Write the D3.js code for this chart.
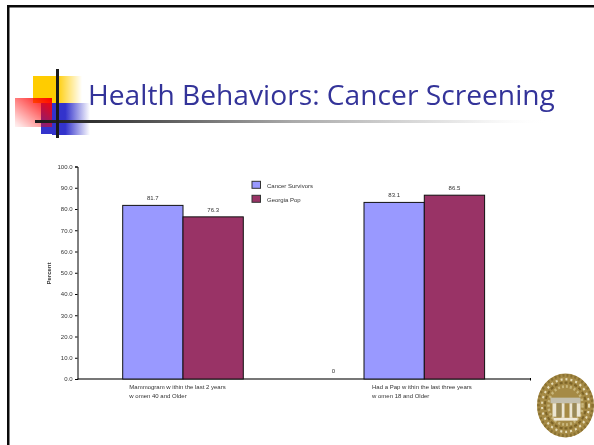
<!DOCTYPE html>
<html><head><meta charset="utf-8">
<script src="https://cdn.jsdelivr.net/npm/d3@7"></script>
<style>html,body{margin:0;padding:0;background:#fff}svg{display:block}text{font-family:"Liberation Sans",Arial,sans-serif;fill:#333}.soft{filter:blur(.3px)}</style>
</head><body><div id="c"></div>
<script>
const titleText = "Health Behaviors: Cancer Screening";
const categories = ["Mammogram", "Pap"];
const categoryLines = [["Mammogram w ithin the last 2 years","w omen 40 and Older"],["Had a Pap w ithin the last three years","w omen 18 and Older"]];
const seriesNames = ["Cancer Survivors","Georgia Pop"];
const survivors = [81.7, 83.1];
const georgia = [76.3, 86.5];
const seriesColors = ["#9999ff","#993366"];
const yTicks = [0,10,20,30,40,50,60,70,80,90,100];
const strayLabel = "0";

const W=594,H=445;
const svg=d3.select("#c").append("svg").attr("width",W).attr("height",H).attr("viewBox",`0 0 ${W} ${H}`);
const defs=svg.append("defs");
function grad(id,x1,y1,x2,y2,stops){const g=defs.append("linearGradient").attr("id",id).attr("x1",x1).attr("y1",y1).attr("x2",x2).attr("y2",y2);
 stops.forEach(s=>g.append("stop").attr("offset",s[0]).attr("stop-color",s[1]).attr("stop-opacity",s[2]));}
grad("gy",0,0,1,0,[[0,"#ffcc00",1],[.48,"#ffcc00",1],[1,"#ffcc00",0]]);
grad("gb",0,0,1,0,[[0,"#3333cc",1],[.35,"#3333cc",1],[1,"#3333cc",0]]);
grad("gr",1,0,0,1,[[0,"#ff0000",1],[.9,"#ff0000",.12],[1,"#ff0000",.05]]);
grad("gl",0,0,1,0,[[0,"#1a1a1a",1],[.12,"#333",1],[.5,"#aaa",1],[.85,"#eee",1],[1,"#fff",0]]);
const rctx=[
 [33,76,49,27,"url(#gy)"],
 [41,103,18,31,"#3333cc"],
 [52,103,38,32,"url(#gb)"],
 [15,98,37,29,"url(#gr)"]];
svg.selectAll("rect.deco").data(rctx).join("rect").attr("class","deco")
 .attr("x",d=>d[0]).attr("y",d=>d[1]).attr("width",d=>d[2]).attr("height",d=>d[3]).attr("fill",d=>d[4]);
svg.append("rect").attr("x",35).attr("y",120).attr("width",515).attr("height",3).attr("fill","url(#gl)");
svg.append("rect").attr("x",56).attr("y",69).attr("width",3).attr("height",69).attr("fill","#1a1a1a");
// frame
svg.append("rect").attr("x",7).attr("y",5).attr("width",W-7).attr("height",2.5).attr("fill","#0a0a0a");
svg.append("rect").attr("x",7).attr("y",5).attr("width",2.5).attr("height",H-5).attr("fill","#0a0a0a");
// title
svg.append("text").attr("class","soft").attr("x",88).attr("y",105)
 .style("font-family","'Open Sans'").style("font-size","28.2px").style("fill","#333399").text(titleText);

// chart
const chart=svg.append("g").attr("class","soft");
const y=d3.scaleLinear().domain([0,100]).range([379,166.5]);
const xC=d3.scalePoint().domain(categories).range([183,424.3]);
const xS=d3.scaleBand().domain(seriesNames).range([-60.3,60.3]).padding(0);
const yAxis=d3.axisLeft(y).tickValues(yTicks).tickFormat(d3.format(".1f")).tickSize(2.5).tickPadding(2.5);
const values=[survivors,georgia];
chart.append("line").attr("x1",77.5).attr("x2",530.5).attr("y1",y(0)).attr("y2",y(0)).attr("stroke","#777").attr("stroke-width",2);
seriesNames.forEach((s,i)=>{
 const gs=chart.append("g");
 gs.selectAll("rect").data(categories).join("rect")
  .attr("x",c=>xC(c)+xS(s)).attr("y",(c,j)=>y(values[i][j]))
  .attr("width",xS.bandwidth()).attr("height",(c,j)=>y(0)-y(values[i][j]))
  .attr("fill",seriesColors[i]).attr("stroke","#111").attr("stroke-width",1);
 gs.selectAll("text").data(categories).join("text")
  .attr("x",c=>xC(c)+xS(s)+xS.bandwidth()/2).attr("y",(c,j)=>y(values[i][j])-5.3)
  .attr("text-anchor","middle").style("font-size","6px").text((c,j)=>values[i][j].toFixed(1));
});
const ya=chart.append("g").attr("transform","translate(77.5,0)").call(yAxis);
ya.selectAll("path,line").attr("stroke","#000").attr("stroke-width",1);
ya.selectAll("text").style("font-size","6px").style("font-family","'Liberation Sans'").style("fill","#333");
chart.append("rect").attr("x",530).attr("y",378).attr("width",1).attr("height",2.5).attr("fill","#000");
categories.forEach((c,i)=>{
 const x0=[129.3,372][i];
 categoryLines[i].forEach((t,k)=>chart.append("text").attr("x",x0).attr("y",388.7+k*9.3).style("font-size","6px").text(t));
});
chart.append("text").attr("x",333.3).attr("y",373).attr("text-anchor","middle").style("font-size","6px").text(strayLabel);
chart.append("text").attr("transform","translate(51,273.5) rotate(-90)").attr("text-anchor","middle").style("font-size","6px").style("font-weight","bold").text("Percent");
seriesNames.forEach((s,i)=>{
 const ly=185+i*14;
 chart.append("rect").attr("x",252).attr("y",ly-3.7).attr("width",8.5).attr("height",7).attr("fill",seriesColors[i]).attr("stroke","#333").attr("stroke-width",1);
 chart.append("text").attr("x",267).attr("y",ly+2.5).style("font-size","6px").text(s);
});
// seal
const seal=svg.append("g").attr("transform","translate(565.5,405.5) scale(1,1.12)").style("filter","blur(.6px)");
seal.append("circle").attr("r",28.5).attr("fill","#a58a45");
const rings=[[27,2.5,"#8a7132","2 2"],[23.5,2,"#e6dcb8","2 3"],[20.5,2,"#7d6427","3 2"],[17,2.5,"#c8b67c","2 2"]];
seal.selectAll("circle.r").data(rings).join("circle").attr("class","r").attr("r",d=>d[0]).attr("fill","none")
 .attr("stroke",d=>d[2]).attr("stroke-width",d=>d[1]).attr("stroke-dasharray",d=>d[3]);
const sealParts=[[-15,-7,30,5,"#c4c0ae"],[-13,-2,4,12,"#ece6d2"],[-4,-2,3,13,"#ece6d2"],[4,-2,3,13,"#ece6d2"],[11,-2,4,12,"#ece6d2"],[-9,-2,5,12,"#9a8a58"],[7,-2,4,12,"#9a8a58"],[-12,11,24,2.5,"#f0ead8"]];
seal.selectAll("rect").data(sealParts).join("rect").attr("x",d=>d[0]).attr("y",d=>d[1]).attr("width",d=>d[2]).attr("height",d=>d[3]).attr("fill",d=>d[4]);
</script></body></html>
